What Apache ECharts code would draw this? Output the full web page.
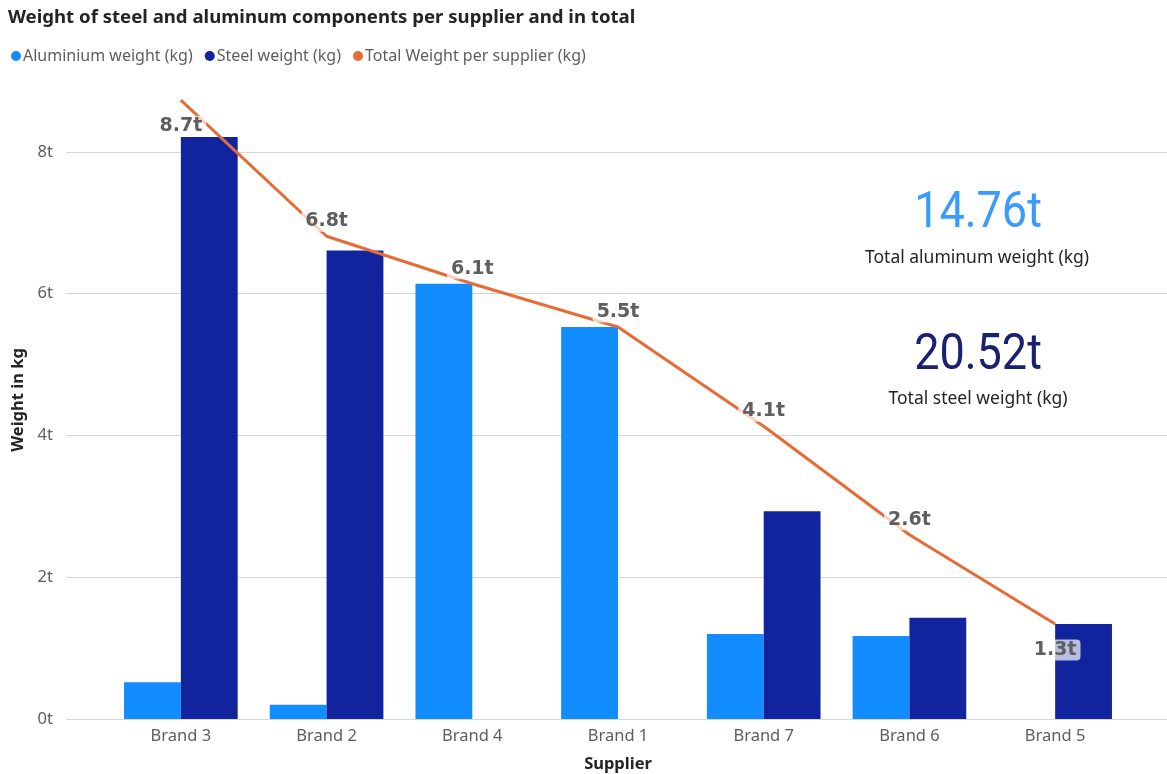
<!DOCTYPE html>
<html>
<head>
<meta charset="utf-8">
<script src="https://cdn.jsdelivr.net/npm/echarts@6/dist/echarts.min.js"></script>
<style>
  html, body { margin: 0; padding: 0; background: #fff; }
  #chart { width: 1167px; height: 774px; }
</style>
</head>
<body>
<div id="chart"></div>
<script>
// Suppliers, sorted by total weight
const suppliers = ['Brand 3', 'Brand 2', 'Brand 4', 'Brand 1', 'Brand 7', 'Brand 6', 'Brand 5'];
// Weights in kg
const aluminiumKg = [520, 200, 6140, 5530, 1200, 1170, 0];
const steelKg = [8210, 6610, 0, 0, 2930, 1430, 1340];
const totalKg = [8730, 6810, 6140, 5530, 4130, 2600, 1340];
// Card totals in kg
const totalAluminiumKg = 14760;
const totalSteelKg = 20520;
// Value axis ticks (kg)
const yMin = 0, yMax = 9000, yStep = 2000;

const FONT = '"Noto Sans", "Open Sans", sans-serif';
const HEAD = 'Roboto, "Noto Sans", sans-serif';
const toT = v => (v / 1000) + 't';

const chart = echarts.init(document.getElementById('chart'), null, { renderer: 'canvas' });

// Labels at the ends sit below the line, the rest above it
const lineData = totalKg.map((v, i) => {
  const edge = i === 0 || i === totalKg.length - 1;
  return { value: v, label: { position: edge ? 'bottom' : 'top', distance: edge ? 15 : 4 } };
});

chart.setOption({
  animation: false,
  backgroundColor: '#ffffff',
  title: {
    text: 'Weight of steel and aluminum components per supplier and in total',
    left: 3, top: 3,
    textStyle: { fontFamily: FONT, fontSize: 18.6, fontWeight: 'bold', color: '#252423' }
  },
  legend: {
    left: 6, top: 43,
    icon: 'circle', itemWidth: 10, itemHeight: 10, itemGap: 12,
    textStyle: { fontFamily: FONT, fontSize: 16, color: '#605E5C', padding: [0, 0, 0, -3] },
    data: ['Aluminium weight (kg)', 'Steel weight (kg)', 'Total Weight per supplier (kg)']
  },
  grid: [
    { left: 108, right: 39, top: 81, bottom: 55, outerBoundsMode: 'none' },
    { left: 66, right: 0, top: 81, bottom: 55, outerBoundsMode: 'none' }
  ],
  xAxis: [
    {
      type: 'category', gridIndex: 0, data: suppliers,
      axisLine: { show: false }, axisTick: { show: false },
      axisLabel: { fontFamily: FONT, fontSize: 16.5, color: '#605E5C', margin: 9 },
      name: 'Supplier', nameLocation: 'middle', nameGap: 37,
      nameTextStyle: { fontFamily: FONT, fontSize: 16.5, fontWeight: 'bold', color: '#252423' }
    },
    { type: 'value', gridIndex: 1, min: 0, max: 1, show: false }
  ],
  yAxis: [
    { type: 'value', gridIndex: 0, min: yMin, max: yMax, interval: yStep, show: false, splitLine: { show: false } },
    {
      type: 'value', gridIndex: 1, min: yMin, max: yMax, interval: yStep,
      axisLine: { show: false }, axisTick: { show: false },
      splitLine: { show: true, showMaxLine: false, lineStyle: { color: '#d6d6d6', width: 1 } },
      axisLabel: { formatter: toT, showMaxLabel: false, fontFamily: FONT, fontSize: 16.5, color: '#605E5C', margin: 13 },
      name: 'Weight in kg', nameLocation: 'middle', nameGap: 38, nameRotate: 90,
      nameTextStyle: { fontFamily: FONT, fontSize: 16.5, fontWeight: 'bold', color: '#252423' }
    }
  ],
  series: [
    {
      name: 'Aluminium weight (kg)', type: 'bar', xAxisIndex: 0, yAxisIndex: 0,
      data: aluminiumKg, barGap: '0%', barCategoryGap: '22%',
      itemStyle: { color: '#118DFF' }
    },
    {
      name: 'Steel weight (kg)', type: 'bar', xAxisIndex: 0, yAxisIndex: 0,
      data: steelKg, barGap: '0%', barCategoryGap: '22%',
      itemStyle: { color: '#12239E' }
    },
    {
      name: 'Total Weight per supplier (kg)', type: 'line', xAxisIndex: 0, yAxisIndex: 0,
      data: lineData, clip: false, z: 5,
      symbol: 'circle', symbolSize: 1, showSymbol: true,
      lineStyle: { color: '#E66C37', width: 3 },
      itemStyle: { color: '#E66C37' },
      label: {
        show: true,
        formatter: p => (p.value / 1000).toFixed(1) + 't',
        fontFamily: '"DejaVu Sans", sans-serif', fontSize: 19, fontWeight: 'bold', color: '#5f5f5f',
        backgroundColor: 'rgba(255,255,255,0.7)', borderRadius: 4, padding: [1, 4]
      }
    }
  ],
  graphic: [
    {
      type: 'text', x: 978, y: 214, scaleX: 0.9,
      style: { text: (totalAluminiumKg / 1000).toFixed(2) + 't', align: 'center', verticalAlign: 'middle',
               font: '50px ' + HEAD, fill: '#3a9bff' }
    },
    {
      type: 'text', x: 977, y: 258,
      style: { text: 'Total aluminum weight (kg)', align: 'center', verticalAlign: 'middle',
               font: '17.5px ' + FONT, fill: '#252423' }
    },
    {
      type: 'text', x: 978, y: 356, scaleX: 0.9,
      style: { text: (totalSteelKg / 1000).toFixed(2) + 't', align: 'center', verticalAlign: 'middle',
               font: '50px ' + HEAD, fill: '#1a2170' }
    },
    {
      type: 'text', x: 978, y: 399,
      style: { text: 'Total steel weight (kg)', align: 'center', verticalAlign: 'middle',
               font: '17.5px ' + FONT, fill: '#252423' }
    }
  ]
});
</script>
</body>
</html>
